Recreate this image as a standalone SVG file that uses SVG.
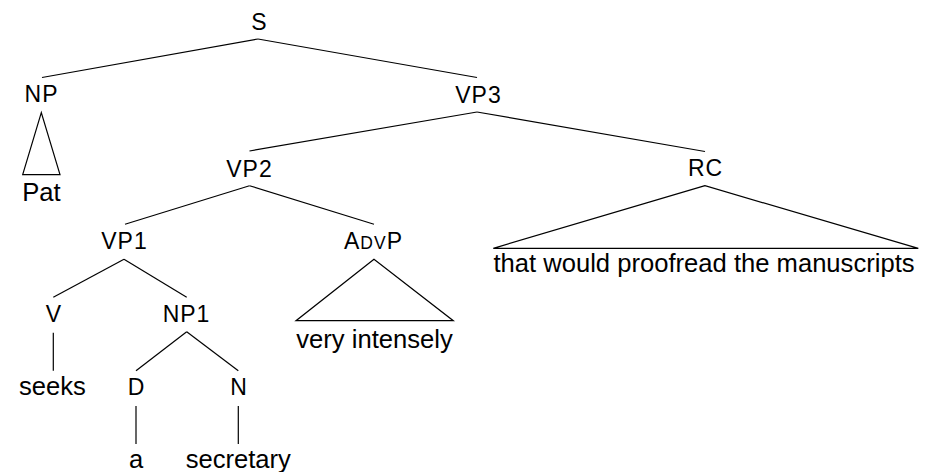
<svg xmlns="http://www.w3.org/2000/svg" width="935" height="472" viewBox="0 0 935 472">
<style>
.lab{font-family:"Liberation Sans",Arial,sans-serif;font-size:23px;letter-spacing:1px;text-anchor:middle;fill:#000}
.leaf{font-family:"Liberation Sans",Arial,sans-serif;font-size:25.6px;text-anchor:middle;fill:#000}
.e{stroke:#000;stroke-width:1.2;fill:none}
</style>
<rect width="935" height="472" fill="#fff"/>
<g id="connectors">
<line class="e" x1="258" y1="39" x2="42" y2="77.5"/>
<line class="e" x1="258" y1="39" x2="477" y2="77.5"/>
<polygon class="e" points="41.3,112.7 22.7,174.7 60,174.7"/>
<line class="e" x1="477" y1="112" x2="249.5" y2="151"/>
<line class="e" x1="477" y1="112" x2="705" y2="151.5"/>
<line class="e" x1="249.5" y1="185.7" x2="125" y2="224.3"/>
<line class="e" x1="249.5" y1="185.7" x2="374" y2="224.3"/>
<polygon class="e" points="705,185.7 493.3,248.3 918.3,248.3"/>
<line class="e" x1="124" y1="259.3" x2="53.3" y2="297.3"/>
<line class="e" x1="124" y1="259.3" x2="186.7" y2="297.3"/>
<polygon class="e" points="374,259.3 296,320.7 453.3,320.7"/>
<line class="e" x1="53.3" y1="332.7" x2="53.3" y2="370.7"/>
<line class="e" x1="186.7" y1="331.7" x2="136" y2="370.7"/>
<line class="e" x1="186.7" y1="331.7" x2="238.3" y2="370.7"/>
<line class="e" x1="136" y1="406" x2="136" y2="444"/>
<line class="e" x1="238.3" y1="406" x2="238.3" y2="444"/>
</g>
<g id="S"><text class="lab" x="259.5" y="29.5">S</text></g>
<g id="NP"><text class="lab" x="41.5" y="102.3">NP</text></g>
<g id="Pat"><text class="leaf" x="41.5" y="200.5">Pat</text></g>
<g id="VP3"><text class="lab" x="478.5" y="102.5">VP3</text></g>
<g id="VP2"><text class="lab" x="249.5" y="176.7">VP2</text></g>
<g id="RC"><text class="lab" x="705.5" y="176">RC</text></g>
<g id="RC-leaf"><text class="leaf" x="704" y="272">that would proofread the manuscripts</text></g>
<g id="VP1"><text class="lab" x="124.5" y="249.3">VP1</text></g>
<g id="ADVP"><text class="lab" x="373.5" y="249.3">A<tspan font-size="17.5">DV</tspan>P</text></g>
<g id="ADVP-leaf"><text class="leaf" x="374.5" y="347.5">very intensely</text></g>
<g id="V"><text class="lab" x="54" y="322">V</text></g>
<g id="NP1"><text class="lab" x="186.5" y="322">NP1</text></g>
<g id="seeks"><text class="leaf" x="52.5" y="395">seeks</text></g>
<g id="D"><text class="lab" x="136.5" y="395">D</text></g>
<g id="N"><text class="lab" x="239" y="395">N</text></g>
<g id="a"><text class="leaf" x="136" y="468">a</text></g>
<g id="secretary"><text class="leaf" x="238.3" y="468">secretary</text></g>
</svg>
